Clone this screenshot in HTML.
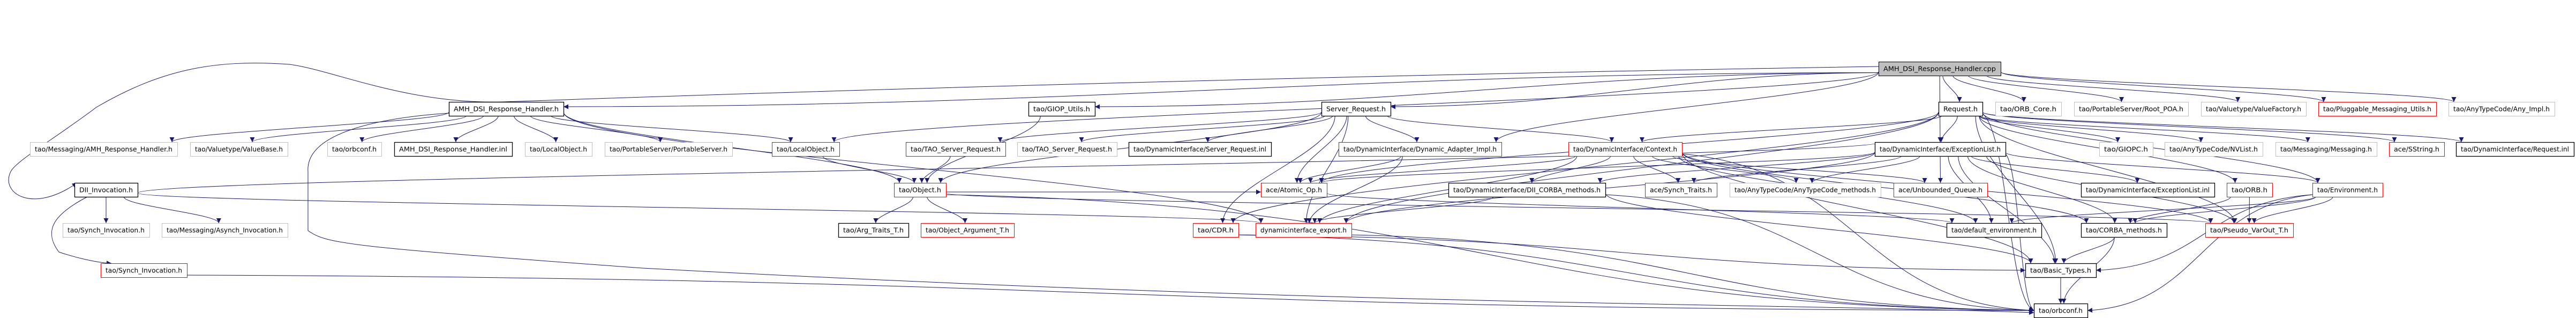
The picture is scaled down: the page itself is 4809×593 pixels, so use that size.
<!DOCTYPE html>
<html><head><meta charset="utf-8">
<style>
html,body{margin:0;padding:0;background:#fff;}
svg{display:block;}
text{font-family:"DejaVu Sans","Liberation Sans",sans-serif;font-size:12px;fill:#000;}
</style></head>
<body>
<svg id="g" width="4809" height="593" viewBox="0 0 4809 593" xmlns="http://www.w3.org/2000/svg">
<defs>
<marker id="a" viewBox="0 0 10 10" refX="10" refY="5" markerWidth="11" markerHeight="9" markerUnits="userSpaceOnUse" orient="auto">
<path d="M0,0 L10,5 L0,10 z" fill="#191970"/>
</marker>
</defs>
<g id="edges" fill="none" stroke="#191970" stroke-width="1"></g>
<g id="nodes"></g>
</svg>
<script>
var R=[128,203,278,354,429,504,579];
var N=[
["cpp",3507,3735,0,"f","AMH_DSI_Response_Handler.cpp"],
["amhh",838,1052,1,"b","AMH_DSI_Response_Handler.h"],
["giopu",1920,2044,1,"b","tao/GIOP_Utils.h"],
["sreq",2467,2596,1,"b","Server_Request.h"],
["req",3619,3701,1,"b","Request.h"],
["orbcore",3725,3848,1,"g","tao/ORB_Core.h"],
["rootpoa",3872,4085,1,"g","tao/PortableServer/Root_POA.h"],
["vfact",4109,4305,1,"g","tao/Valuetype/ValueFactory.h"],
["plug",4328,4548,1,"r","tao/Pluggable_Messaging_Utils.h"],
["anyimpl",4571,4769,1,"g","tao/AnyTypeCode/Any_Impl.h"],
["amhrh",56,331,2,"g","tao/Messaging/AMH_Response_Handler.h"],
["vbase",355,537,2,"g","tao/Valuetype/ValueBase.h"],
["orbconfg",611,712,2,"g","tao/orbconf.h"],
["inl",736,956,2,"b","AMH_DSI_Response_Handler.inl"],
["lobjg",980,1105,2,"g","tao/LocalObject.h"],
["pserv",1129,1367,2,"g","tao/PortableServer/PortableServer.h"],
["lobjr",1441,1567,2,"r","tao/LocalObject.h"],
["tsrr",1691,1877,2,"r","tao/TAO_Server_Request.h"],
["tsrg",1899,2085,2,"g","tao/TAO_Server_Request.h"],
["srinl",2107,2373,2,"b","tao/DynamicInterface/Server_Request.inl"],
["dai",2499,2803,2,"r","tao/DynamicInterface/Dynamic_Adapter_Impl.h"],
["ctx",2928,3140,2,"r","tao/DynamicInterface/Context.h"],
["excl",3500,3744,2,"b","tao/DynamicInterface/ExceptionList.h"],
["giopc",3919,4019,2,"g","tao/GIOPC.h"],
["nvl",4041,4224,2,"g","tao/AnyTypeCode/NVList.h"],
["msg",4248,4437,2,"g","tao/Messaging/Messaging.h"],
["sstr",4460,4563,2,"r","ace/SString.h"],
["reqinl",4585,4805,2,"b","tao/DynamicInterface/Request.inl"],
["dii",139,257,3,"b","DII_Invocation.h"],
["obj",1669,1766,3,"r","tao/Object.h"],
["atomic",2354,2477,3,"r","ace/Atomic_Op.h"],
["diicm",2704,2997,3,"b","tao/DynamicInterface/DII_CORBA_methods.h"],
["synt",3071,3205,3,"r","ace/Synch_Traits.h"],
["atcm",3229,3511,3,"g","tao/AnyTypeCode/AnyTypeCode_methods.h"],
["uq",3535,3710,3,"r","ace/Unbounded_Queue.h"],
["exinl",3885,4134,3,"b","tao/DynamicInterface/ExceptionList.inl"],
["orb",4157,4242,3,"r","tao/ORB.h"],
["env",4317,4448,3,"r","tao/Environment.h"],
["synchg",117,279,4,"g","tao/Synch_Invocation.h"],
["asynch",302,537,4,"g","tao/Messaging/Asynch_Invocation.h"],
["argt",1565,1696,4,"b","tao/Arg_Traits_T.h"],
["objarg",1719,1893,4,"r","tao/Object_Argument_T.h"],
["cdr",2227,2312,4,"r","tao/CDR.h"],
["dexp",2344,2523,4,"r","dynamicinterface_export.h"],
["defenv",3634,3811,4,"b","tao/default_environment.h"],
["corbam",3885,4045,4,"b","tao/CORBA_methods.h"],
["pvo",4117,4281,4,"r","tao/Pseudo_VarOut_T.h"],
["synchr",188,349,5,"r","tao/Synch_Invocation.h"],
["basic",3781,3913,5,"b","tao/Basic_Types.h"],
["orbconf",3797,3897,6,"b","tao/orbconf.h"]
];
var M={};
var ns="http://www.w3.org/2000/svg";
var gn=document.getElementById("nodes"),ge=document.getElementById("edges");
N.forEach(function(n){
  var y=R[n[3]];M[n[0]]={x1:n[1],x2:n[2],cx:(n[1]+n[2])/2,t:y-13,b:y+13,y:y};
  var r=document.createElementNS(ns,"rect");
  r.setAttribute("x",n[1]+0.5);r.setAttribute("y",y-13+0.5);
  r.setAttribute("width",n[2]-n[1]);r.setAttribute("height",26);
  var st=n[4];
  r.setAttribute("fill",st=="f"?"#bfbfbf":"#fff");
  r.setAttribute("stroke",st=="g"?"#bfbfbf":(st=="r"?"#ff0000":"#000"));
  r.setAttribute("stroke-width",st=="b"?1.3:1);
  gn.appendChild(r);
  var t=document.createElementNS(ns,"text");
  t.setAttribute("x",(n[1]+n[2])/2);t.setAttribute("y",y+4.5);
  t.setAttribute("text-anchor","middle");
  t.setAttribute("textLength",Math.max(10,n[2]-n[1]-18));
  t.setAttribute("lengthAdjust","spacingAndGlyphs");
  t.textContent=n[5];gn.appendChild(t);
});
</script>
<script>
var E=[
["cpp","amhh","R"],["cpp","giopu","R"],["cpp","sreq","R"],["cpp","req"],["cpp","excl"],["cpp","orbcore"],
["cpp","rootpoa"],["cpp","vfact"],["cpp","plug"],["cpp","anyimpl"],["cpp","dii","LOOP"],["cpp","lobjr"],["cpp","dai"],
["amhh","amhrh"],["amhh","vbase"],["amhh","orbconfg"],["amhh","inl"],["amhh","lobjg"],["amhh","pserv"],["amhh","lobjr"],
["amhh","dexp"],["amhh","orbconf","DOWN"],["amhh","obj"],
["dii","synchg"],["dii","asynch"],["dii","synchr","CURVE"],["dii","dexp"],["dii","excl"],
["synchr","orbconf","SIDE"],
["giopu","obj"],["lobjr","obj"],["tsrr","obj"],
["obj","argt"],["obj","objarg"],["obj","atomic"],["obj","pvo"],["obj","orbconf","SIDE"],
["sreq","tsrr"],["sreq","tsrg"],["sreq","srinl"],["sreq","dai"],["sreq","ctx"],["sreq","cdr"],["sreq","dexp"],["sreq","atomic"],["sreq","obj"],
["req","excl"],["req","giopc"],["req","nvl"],["req","msg"],["req","sstr"],["req","reqinl"],["req","orb"],["req","env"],["req","basic"],
["req","pvo"],["req","ctx"],["req","dexp"],["req","atomic"],["req","orbconf","SIDE"],["req","cdr"],
["excl","uq"],["excl","exinl"],["excl","env"],["excl","defenv"],["excl","corbam"],["excl","basic"],["excl","orbconf","SIDE"],
["excl","atomic"],["excl","dexp"],["excl","synt"],["excl","atcm"],["excl","diicm"],["excl","pvo"],
["ctx","diicm"],["ctx","synt"],["ctx","atcm"],["ctx","uq"],["ctx","atomic"],["ctx","dexp"],["ctx","corbam"],["ctx","defenv"],["ctx","orbconf","SIDE"],["ctx","basic"],["ctx","pvo"],
["dai","atomic"],["dai","dexp"],["diicm","dexp"],["diicm","orbconf","SIDE"],["diicm","basic"],
["orb","corbam"],["orb","pvo"],
["env","defenv"],["env","corbam"],["env","pvo"],["env","basic","SIDE"],["env","orbconf","SIDE"],
["corbam","basic"],["corbam","orbconf"],["basic","orbconf"],
["cdr","basic","SIDE"],["cdr","orbconf","SIDE"],["atomic","defenv"],["dexp","orbconf","SIDE"]
];
function P(d){var p=document.createElementNS(ns,"path");p.setAttribute("d",d);p.setAttribute("marker-end","url(#a)");ge.appendChild(p);}
E.forEach(function(e){
  var s=M[e[0]],t=M[e[1]],k=e[2];
  if(!s||!t)return;
  if(k=="R"){
    var sx=s.x1,sy=s.y+(t.y-s.y)*0.1,tx=t.x2,ty=t.y-4;
    P("M"+sx+","+sy+" C"+(sx-(sx-tx)*0.4)+","+sy+" "+(tx+(sx-tx)*0.4)+","+ty+" "+tx+","+ty);return;
  }
  if(k=="LOOP"){
    P("M"+s.x1+","+(s.y-4)+" C2500,140 1500,170 940,190 C760,195 620,130 540,120 C400,110 300,130 180,200 C100,260 30,300 20,320 C0,360 60,400 "+(t.x1+5)+","+t.t);return;
  }
  if(k=="DOWN"){
    P("M"+s.x1+","+(s.y+8)+" C700,220 570,250 575,320 L575,430 C610,455 650,460 1200,500 C2500,570 3300,565 "+t.x1+","+(t.y+4));return;
  }
  if(k=="CURVE"){
    P("M"+(s.x1+24)+","+s.b+" C100,400 80,430 110,470 C140,480 180,490 "+(t.x1+20)+","+t.t);return;
  }
  if(k=="SIDE"){
    var sx2=(s.cx<t.cx)?s.x2:s.x1, tx2=(s.cx<t.cx)?t.x1:t.x2;
    var sy2=s.b-4, ty2=t.y;
    if(s.y==t.y){sy2=s.y;}
    var mx=(sx2+tx2)/2;
    P("M"+sx2+","+sy2+" C"+mx+","+(sy2+(ty2-sy2)*0.1)+" "+mx+","+(ty2-(ty2-sy2)*0.05)+" "+tx2+","+ty2);return;
  }
  if(t.y==s.y){
    var a=(s.cx<t.cx)?s.x2:s.x1,b=(s.cx<t.cx)?t.x1:t.x2;
    P("M"+a+","+(s.y+4)+" L"+b+","+(t.y+4));return;
  }
  var dx=t.cx-s.cx;
  var sx=s.cx+Math.max(-(s.x2-s.x1)/2+6,Math.min((s.x2-s.x1)/2-6,dx*0.15));
  var sy=s.b, tx=t.cx-Math.max(-(t.x2-t.x1)/2+8,Math.min((t.x2-t.x1)/2-8,dx*0.05)), ty=t.t;
  if(Math.abs(dx)>700){
    sx=(dx>0)?s.x2:s.x1; sy=s.y+6;
    tx=(dx>0)?t.x1+10:t.x2-10; ty=t.t;
  }
  var dy=ty-sy;
  P("M"+sx+","+sy+" C"+sx+","+(sy+dy*0.35)+" "+tx+","+(ty-dy*0.35)+" "+tx+","+ty);
});
</script>
</body></html>
